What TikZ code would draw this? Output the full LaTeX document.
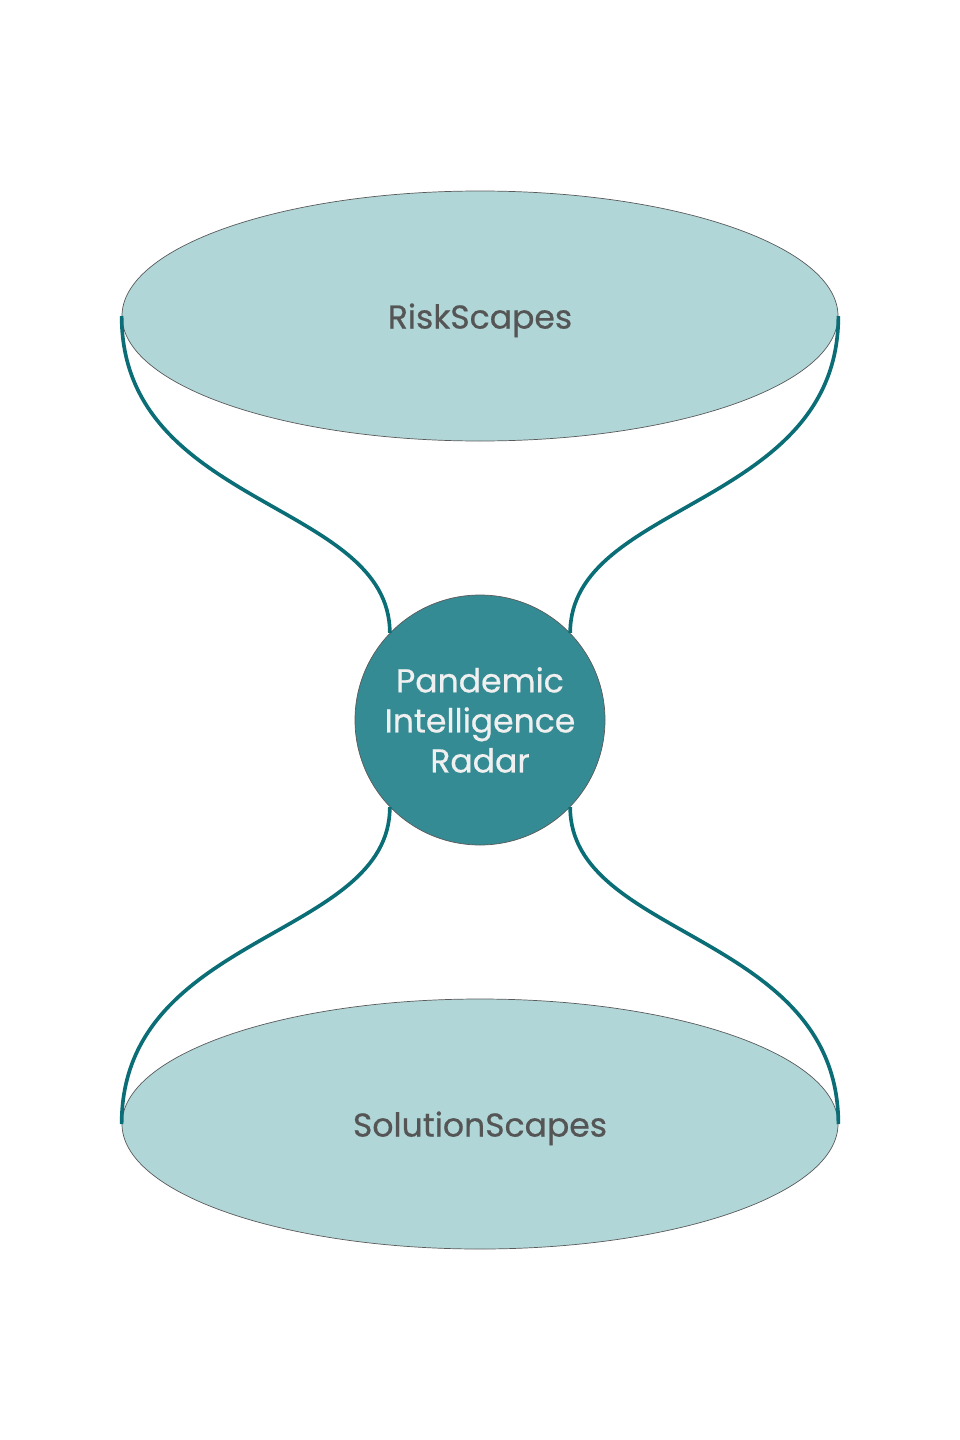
\documentclass[tikz,border=0pt]{standalone}
\usepackage{fontspec}
\setmainfont{Poppins}
\newfontfamily\medfont{Poppins}[FakeBold=0.6]
\usetikzlibrary{shapes.geometric,positioning}

\definecolor{scapefill}{HTML}{B1D6D8}
\definecolor{radarfill}{HTML}{358B94}
\definecolor{linkcol}{HTML}{0B6E76}
\definecolor{labelgray}{HTML}{555555}
\definecolor{edgegray}{HTML}{5A5A5A}

\tikzset{
  scape/.style={draw=edgegray, line width=0.5pt, fill=scapefill, ellipse,
    minimum width=17.9cm, minimum height=6.25cm, inner sep=0pt, text depth=0pt,
    text=labelgray, font=\medfont\fontsize{23.5}{29}\selectfont},
  radarnode/.style={draw=edgegray, line width=0.5pt, fill=radarfill, circle,
    minimum size=6.25cm, inner sep=0pt, align=center,
    text=white!94!black, font=\medfont\fontsize{23.5}{28.5}\selectfont},
  link/.style={draw=linkcol, line width=2.6pt}
}

\begin{document}
\begin{tikzpicture}
                \useasboundingbox (0,0) rectangle (24,-36);
                % --------
                % Nodes
                % --------
                \node[scape] at (12, -7.9) (risk) {RiskScapes};
                \node[radarnode] at (12, -18) (radar) {Pandemic\\Intelligence\\Radar};
                \node[scape] at (12, -28.1) (solution) {SolutionScapes};

                % Draw line
                \draw[link] (risk.west) .. controls +(0,-4.8) and +(0,3.3) .. (radar.136);
                \draw[link] (risk.east) .. controls +(0,-4.8) and +(0,3.3) .. (radar.44);
                \draw[link] (radar.224) .. controls +(0,-3.3) and +(0,4.8) .. (solution.west);
                \draw[link] (radar.316) .. controls +(0,-3.3) and +(0,4.8) .. (solution.east);
\end{tikzpicture}
\end{document}
